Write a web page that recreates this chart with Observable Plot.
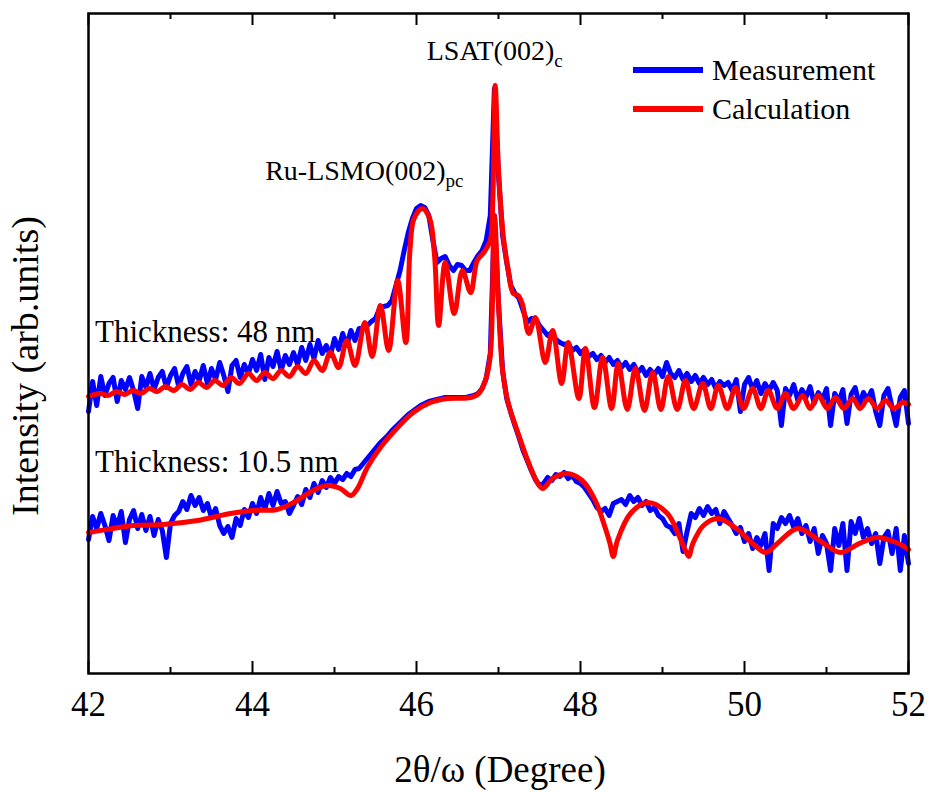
<!DOCTYPE html>
<html><head><meta charset="utf-8">
<script src="https://cdn.jsdelivr.net/npm/d3@7"></script>
<script src="https://cdn.jsdelivr.net/npm/@observablehq/plot@0.6"></script>
<style>body{margin:0;background:#fff;} svg{display:block;}</style>
</head><body><div id="chart"></div>
<script>
// 2θ/ω scan, intensity in arbitrary units (curves offset vertically)
const meas48 = [
[42.00,262],[42.05,292],[42.10,268],[42.15,297],[42.20,278],[42.25,290],[42.30,296],[42.35,272],[42.40,293],[42.45,284],
[42.50,296],[42.55,283],[42.60,265],[42.65,297],[42.70,286],[42.75,300],[42.80,284],[42.85,296],[42.90,302],[42.95,286],
[43.00,298],[43.05,305],[43.10,287],[43.15,300],[43.20,307],[43.25,289],[43.30,302],[43.35,293],[43.40,308],[43.45,290],
[43.50,305],[43.55,294],[43.60,311],[43.65,298],[43.70,282],[43.75,308],[43.80,313],[43.85,296],[43.90,309],[43.95,300],
[44.00,314],[44.05,303],[44.10,319],[44.15,294],[44.20,316],[44.25,307],[44.30,322],[44.35,303],[44.40,318],[44.45,309],
[44.50,321],[44.55,309],[44.60,326],[44.65,313],[44.70,329],[44.75,315],[44.80,333],[44.85,320],[44.90,328],[44.95,318],
[45.00,335],[45.05,324],[45.10,340],[45.15,328],[45.20,343],[45.25,333],[45.30,345],[45.35,345],[45.40,348],[45.45,352],
[45.50,355],[45.55,365],[45.60,367],[45.65,368],[45.70,373],[45.75,388],[45.80,403],[45.85,423],[45.90,441],[45.95,455],
[46.00,465],[46.05,468],[46.10,466],[46.15,458],[46.20,433],[46.25,411],[46.30,415],[46.35,417],[46.40,408],[46.45,403],
[46.50,409],[46.55,408],[46.60,403],[46.65,403],[46.70,411],[46.75,418],[46.80,423],[46.85,433],[46.90,458],[46.95,585],
[47.00,498],[47.05,438],[47.10,411],[47.15,388],[47.20,380],[47.25,375],[47.30,363],[47.35,351],[47.40,355],[47.45,355],
[47.50,348],[47.55,343],[47.60,338],[47.65,341],[47.70,334],[47.75,331],[47.80,329],[47.85,330],[47.90,323],[47.95,326],
[48.00,320],[48.05,324],[48.10,317],[48.15,320],[48.20,314],[48.25,318],[48.30,311],[48.35,316],[48.40,309],[48.45,313],
[48.50,306],[48.55,311],[48.60,304],[48.65,309],[48.70,301],[48.75,306],[48.80,298],[48.85,304],[48.90,299],[48.95,305],
[49.00,297],[49.05,311],[49.10,300],[49.15,296],[49.20,303],[49.25,294],[49.30,300],[49.35,292],[49.40,298],[49.45,290],
[49.50,296],[49.55,289],[49.60,294],[49.65,285],[49.70,292],[49.75,288],[49.80,291],[49.85,283],[49.90,294],[49.95,262],
[50.00,289],[50.05,296],[50.10,284],[50.15,293],[50.20,280],[50.25,290],[50.30,283],[50.35,291],[50.40,283],[50.45,248],
[50.50,285],[50.55,278],[50.60,289],[50.65,273],[50.70,284],[50.75,276],[50.80,287],[50.85,270],[50.90,281],[50.95,274],
[51.00,285],[51.05,248],[51.10,280],[51.15,272],[51.20,284],[51.25,250],[51.30,279],[51.35,286],[51.40,268],[51.45,281],
[51.50,274],[51.55,283],[51.60,262],[51.65,248],[51.70,278],[51.75,285],[51.80,266],[51.85,248],[51.90,276],[51.95,283],[52.00,250]
];

const calc48 = [
[42.00,277],[42.14,280],[42.24,278],[42.34,282],[42.44,279],[42.54,283],[42.64,280],[42.74,285],[42.84,282],[42.94,287],
[43.04,283],[43.14,289],[43.24,284],[43.34,291],[43.44,286],[43.54,293],[43.64,288],[43.74,296],[43.84,290],[43.95,300],
[44.05,293],[44.15,301],[44.25,295],[44.35,303],[44.45,297],[44.55,307],[44.65,300],[44.75,313],[44.85,303],[44.95,321],
[45.05,306],[45.15,333],[45.25,308],[45.37,351],[45.46,317],[45.56,368],[45.66,323],[45.77,393],[45.87,331],[45.92,423],
[45.97,455],[46.07,465],[46.16,455],[46.22,418],[46.27,348],[46.35,411],[46.46,360],[46.56,403],[46.66,381],[46.74,413],
[46.82,421],[46.90,433],[46.93,473],[46.96,588],[47.00,503],[47.06,436],[47.12,403],[47.18,380],[47.24,378],[47.29,370],
[47.37,340],[47.45,356],[47.57,311],[47.66,343],[47.77,290],[47.85,331],[47.98,275],[48.06,325],[48.17,266],[48.27,316],
[48.38,265],[48.46,310],[48.57,264],[48.67,305],[48.78,263],[48.88,301],[48.98,264],[49.07,297],[49.18,264],[49.28,293],
[49.38,265],[49.49,290],[49.59,265],[49.68,288],[49.79,265],[49.89,286],[49.99,265],[50.10,285],[50.20,265],[50.29,283],
[50.40,265],[50.50,280],[50.60,265],[50.71,278],[50.80,265],[50.90,278],[51.01,265],[51.11,276],[51.21,265],[51.32,275],
[51.41,265],[51.51,275],[51.62,265],[51.72,273],[51.82,265],[51.93,271],[52.00,269]
];

const meas105 = [
[42.00,134],[42.05,157],[42.10,145],[42.15,160],[42.20,148],[42.25,133],[42.30,158],[42.35,147],[42.40,162],[42.45,131],
[42.50,154],[42.55,163],[42.60,145],[42.65,159],[42.70,143],[42.75,157],[42.80,138],[42.85,154],[42.90,143],[42.95,116],
[43.00,150],[43.05,158],[43.10,162],[43.15,172],[43.20,164],[43.25,178],[43.30,168],[43.35,176],[43.40,163],[43.45,170],
[43.50,156],[43.55,165],[43.60,148],[43.65,140],[43.70,147],[43.75,136],[43.80,155],[43.85,148],[43.90,164],[43.95,156],
[44.00,170],[44.05,160],[44.10,176],[44.15,164],[44.20,180],[44.25,168],[44.30,182],[44.35,170],[44.40,172],[44.45,160],
[44.50,168],[44.55,177],[44.60,169],[44.65,184],[44.70,176],[44.75,190],[44.80,181],[44.85,193],[44.90,186],[44.95,196],
[45.00,190],[45.05,197],[45.10,194],[45.15,200],[45.20,197],[45.25,204],[45.30,205],[45.35,210],[45.40,215],[45.45,220],
[45.50,225],[45.55,230],[45.60,234],[45.65,238],[45.70,243],[45.75,247],[45.80,251],[45.85,255],[45.90,259],[45.95,262],
[46.00,265],[46.05,268],[46.10,270],[46.15,272],[46.20,273],[46.25,274],[46.30,275],[46.35,276],[46.40,276],[46.45,276],
[46.50,276],[46.55,276],[46.60,276],[46.65,277],[46.70,278],[46.75,280],[46.80,285],[46.85,295],[46.90,320],[46.95,458],
[47.00,370],[47.05,303],[47.10,275],[47.15,261],[47.20,248],[47.25,236],[47.30,223],[47.35,213],[47.40,203],[47.45,194],
[47.50,188],[47.55,190],[47.60,196],[47.65,193],[47.70,199],[47.75,197],[47.80,201],[47.85,195],[47.90,198],[47.95,192],
[48.00,190],[48.05,186],[48.10,180],[48.15,174],[48.20,166],[48.25,162],[48.30,165],[48.35,158],[48.40,170],[48.45,172],
[48.50,174],[48.55,169],[48.60,178],[48.65,172],[48.70,176],[48.75,168],[48.80,172],[48.85,163],[48.90,166],[48.95,158],
[49.00,155],[49.05,148],[49.10,146],[49.15,140],[49.20,150],[49.25,122],[49.30,142],[49.35,160],[49.40,156],[49.45,165],
[49.50,158],[49.55,167],[49.60,160],[49.65,164],[49.70,150],[49.75,162],[49.80,155],[49.85,148],[49.90,140],[49.95,146],
[50.00,132],[50.05,140],[50.10,125],[50.15,136],[50.20,128],[50.25,140],[50.30,103],[50.35,150],[50.40,145],[50.45,156],
[50.50,150],[50.55,158],[50.60,146],[50.65,155],[50.70,140],[50.75,148],[50.80,132],[50.85,145],[50.90,120],[50.95,138],
[51.00,130],[51.05,103],[51.10,145],[51.15,128],[51.20,150],[51.25,103],[51.30,152],[51.35,140],[51.40,155],[51.45,136],
[51.50,145],[51.55,130],[51.60,140],[51.65,110],[51.70,136],[51.75,142],[51.80,120],[51.85,145],[51.90,103],[51.95,138],[52.00,110]
];

const calc105 = [
[42.00,141],[42.30,145],[42.55,148],[42.91,149],[43.33,153],[43.73,160],[44.01,163],[44.30,164],[44.50,171],[44.74,183],
[44.91,188],[45.07,185],[45.20,178],[45.28,185],[45.40,206],[45.56,226],[45.77,246],[45.96,261],[46.17,271],[46.38,275],
[46.66,276],[46.76,280],[46.84,293],[46.90,318],[46.95,458],[47.00,370],[47.05,303],[47.12,270],[47.24,240],[47.37,210],
[47.48,190],[47.54,185],[47.66,195],[47.84,200],[48.02,193],[48.18,173],[48.30,146],[48.36,130],[48.40,117],[48.45,133],
[48.61,160],[48.82,171],[49.06,160],[49.20,138],[49.28,123],[49.32,117],[49.37,130],[49.50,148],[49.68,155],[49.90,145],
[50.10,130],[50.26,121],[50.40,130],[50.65,145],[50.93,132],[51.17,121],[51.40,130],[51.62,136],[51.85,131],[52.00,124]
];

const majorTicks = [42, 44, 46, 48, 50, 52];
const minorTicks = [43, 45, 47, 49, 51];
const seriesNames = ["Measurement", "Calculation"];
const seriesColors = ["#0000ff", "#ff0000"];
const annotations = [
  {main: "LSAT(002)", sub: "c", x: 46.96, y: 613, anchor: "middle", size: 28},
  {main: "Ru-LSMO(002)", sub: "pc", x: 45.37, y: 493, anchor: "middle", size: 28},
  {main: "Thickness: 48 nm", sub: "", x: 42.085, y: 331, anchor: "start", size: 31},
  {main: "Thickness: 10.5 nm", sub: "", x: 42.085, y: 201, anchor: "start", size: 31}
];

const FONT = "Liberation Serif, Times New Roman, serif";
const lineOpts = (c) => ({x: d => d[0], y: d => d[1], stroke: c, strokeWidth: 5, strokeLinejoin: "round", strokeLinecap: "round"});

const plot = Plot.plot({
  width: 930, height: 792,
  marginLeft: 88, marginRight: 22, marginTop: 13, marginBottom: 119,
  style: {fontFamily: FONT, background: "#fff", overflow: "visible", color: "black"},
  x: {domain: [42, 52]},
  y: {domain: [0, 660], axis: null},
  marks: [
    Plot.line(meas48, lineOpts(seriesColors[0])),
    Plot.line(meas105, lineOpts(seriesColors[0])),
    Plot.line(calc48, {...lineOpts(seriesColors[1]), curve: "catmull-rom"}),
    Plot.line(calc105, {...lineOpts(seriesColors[1]), curve: "catmull-rom"}),
    Plot.tickX(majorTicks, {x: d => d, stroke: "black", strokeWidth: 2, insetTop: 648}),
    Plot.tickX(majorTicks, {x: d => d, stroke: "black", strokeWidth: 2, insetBottom: 648}),
    Plot.tickX(minorTicks, {x: d => d, stroke: "black", strokeWidth: 2, insetTop: 654}),
    Plot.tickX(minorTicks, {x: d => d, stroke: "black", strokeWidth: 2, insetBottom: 654}),
    Plot.frame({stroke: "black", strokeWidth: 2.5}),
    Plot.axisX({ticks: majorTicks, tickSize: 0, tickPadding: 18, fontSize: 35, fontFamily: FONT, label: null, tickFormat: d => String(d)})
  ]
});

const svg = d3.select(plot);
svg.selectAll("text").attr("font-family", FONT).attr("fill", "black");
const xs = plot.scale("x"), ys = plot.scale("y");

annotations.forEach(a => {
  const t = svg.append("text")
    .attr("x", xs.apply(a.x)).attr("y", ys.apply(a.y))
    .attr("text-anchor", a.anchor)
    .attr("font-family", FONT).attr("font-size", a.size).attr("fill", "black");
  t.append("tspan").text(a.main);
  if (a.sub) t.append("tspan").attr("dy", 7).attr("font-size", 19).text(a.sub);
});

// legend inside the frame, top right
seriesNames.forEach((n, i) => {
  const yy = 70 + i * 39;
  svg.append("line").attr("x1", 633).attr("x2", 703).attr("y1", yy).attr("y2", yy)
    .attr("stroke", seriesColors[i]).attr("stroke-width", 6);
  svg.append("text").attr("x", 712).attr("y", yy + 10).attr("text-anchor", "start")
    .attr("font-family", FONT).attr("font-size", 30).attr("fill", "black").text(n);
});

// axis titles
svg.append("text").attr("x", (88 + 908) / 2 + 2).attr("y", 782).attr("text-anchor", "middle")
  .attr("font-family", FONT).attr("font-size", 37).attr("fill", "black").text("2θ/ω (Degree)");
svg.append("text").attr("transform", "translate(38,366) rotate(-90)").attr("text-anchor", "middle")
  .attr("font-family", FONT).attr("font-size", 38).attr("fill", "black").text("Intensity (arb.units)");

document.getElementById("chart").appendChild(plot);
</script>
</body></html>
